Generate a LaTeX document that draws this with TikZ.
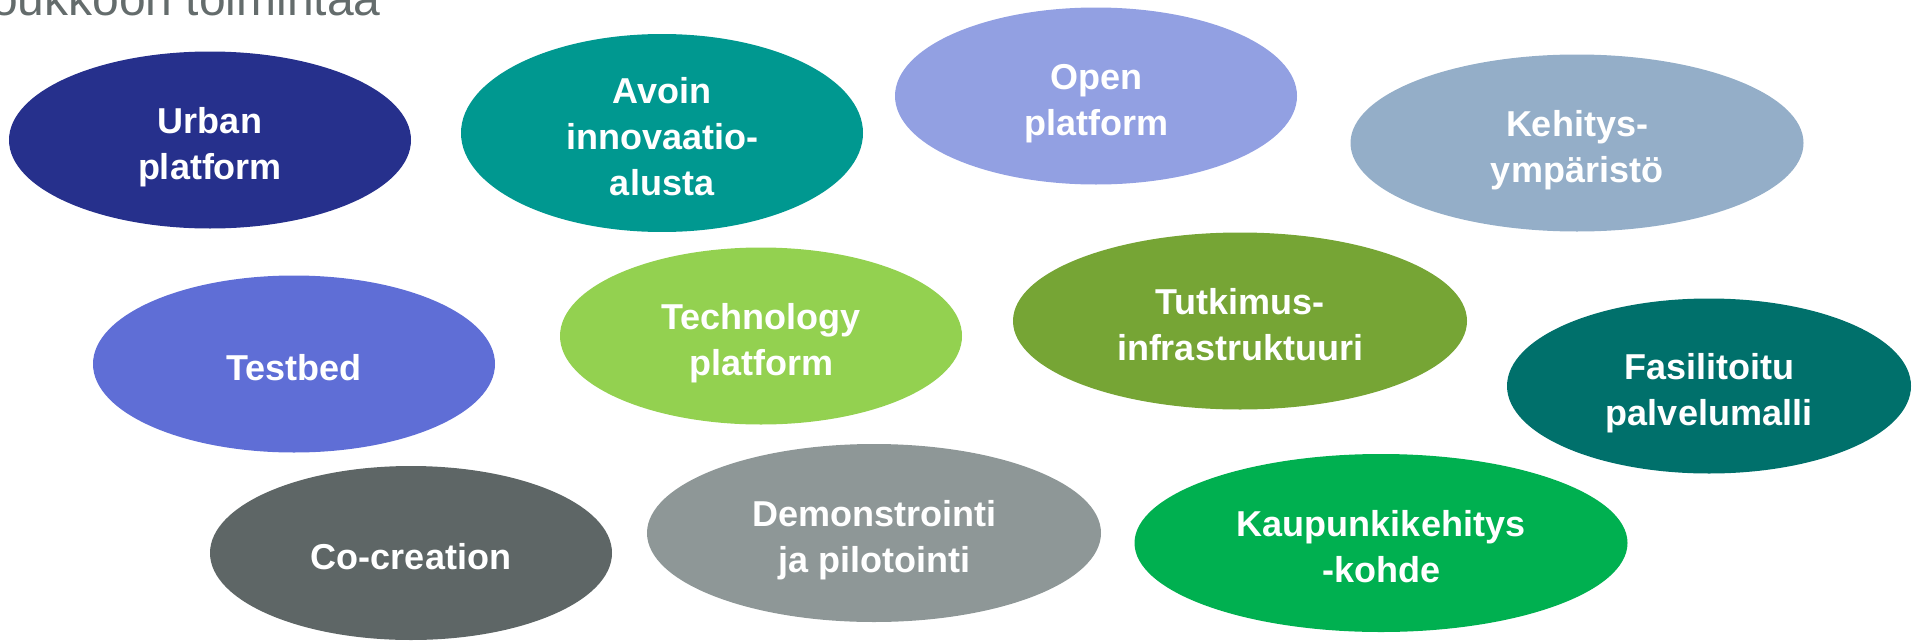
\documentclass[tikz,border=0pt]{standalone}
\usepackage{fontspec}
\setmainfont{Liberation Sans}
\usetikzlibrary{shapes.geometric}

\definecolor{urbanblue}{RGB}{38,48,140}
\definecolor{avointeal}{RGB}{0,152,144}
\definecolor{openlilac}{RGB}{146,160,226}
\definecolor{kehgrey}{RGB}{148,174,200}
\definecolor{testblue}{RGB}{95,110,214}
\definecolor{techgreen}{RGB}{147,209,80}
\definecolor{tutgreen}{RGB}{118,165,53}
\definecolor{fasteal}{RGB}{0,112,107}
\definecolor{cogrey}{RGB}{94,102,102}
\definecolor{demogrey}{RGB}{142,151,151}
\definecolor{kaupgreen}{RGB}{0,176,80}
\definecolor{titlegrey}{RGB}{100,108,108}

% struts so that the text sits a little below the middle of each bubble
\newcommand{\bubbletext}[1]{\rule{0pt}{40pt}#1\rule[-8pt]{0pt}{8pt}}

\begin{document}
\begin{tikzpicture}[x=1pt,y=-1pt]

      \useasboundingbox (0,0) rectangle (1914,640);

      \node[anchor=base west,text=titlegrey,inner sep=0pt,font=\fontsize{48}{56}\selectfont] (title) at (-9,15) {oukkoon toimintaa};

      \begin{scope}[every node/.style={ellipse,inner sep=0pt,minimum width=402pt,minimum height=177pt,
          text=white,align=center,font=\bfseries\fontsize{36}{46}\selectfont}]
        \node[fill=urbanblue]  (1)  at (210,140)  {\bubbletext{Urban\\platform}};
        \node[fill=avointeal]  (2)  at (662,133)  {\bubbletext{Avoin\\innovaatio-\\alusta}};
        \node[fill=openlilac]  (3)  at (1096,96)  {\bubbletext{Open\\platform}};
        \node[fill=kehgrey,minimum width=453pt]  (4)  at (1577,143) {\bubbletext{Kehitys-\\ympäristö}};
        \node[fill=testblue]   (5)  at (294,364)  {\bubbletext{Testbed}};
        \node[fill=techgreen]  (6)  at (761,336)  {\bubbletext{Technology\\platform}};
        \node[fill=tutgreen,minimum width=454pt] (7)  at (1240,321) {\bubbletext{Tutkimus-\\infrastruktuuri}};
        \node[fill=fasteal,minimum width=404pt,minimum height=175pt]  (8)  at (1709,386) {\bubbletext{Fasilitoitu\\palvelumalli}};
        \node[fill=cogrey,minimum height=174pt] (9)  at (411,553)  {\bubbletext{Co-creation}};
        \node[fill=demogrey,minimum width=454pt,minimum height=178pt] (10) at (874,533) {\bubbletext{Demonstrointi\\ja pilotointi}};
        \node[fill=kaupgreen,minimum width=493pt,minimum height=178pt] (11) at (1381,543) {\bubbletext{Kaupunkikehitys\\-kohde}};
      \end{scope}

    \end{tikzpicture}
\end{document}
